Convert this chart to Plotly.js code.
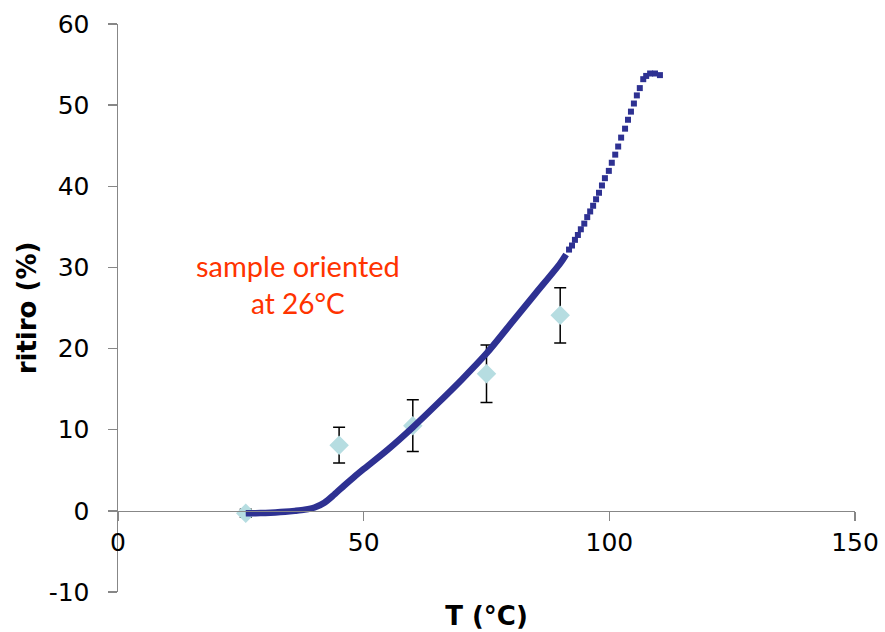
<!DOCTYPE html>
<html>
<head>
<meta charset="utf-8">
<script src="https://cdn.plot.ly/plotly-3.0.1.min.js"></script>
<style>html,body{margin:0;padding:0;background:#fff;}#chart{width:885px;height:632px;}</style>
</head>
<body>
<div id="chart"></div>
<script>
// Measured data (diamonds with error bars)
const measT = [26, 45, 60, 75, 90];
const measR = [-0.3, 8.1, 10.5, 16.9, 24.1];
const measErr = [0.5, 2.2, 3.2, 3.55, 3.4];

// Continuous (dense) part of the shrinkage curve
const curveT = [26.0, 28, 30, 32, 34, 36, 38, 40, 42, 44, 46, 48, 50, 55, 60, 65, 70, 75, 80, 85, 90, 91.2];
const curveR = [-0.3, -0.28, -0.25, -0.2, -0.12, 0.0, 0.15, 0.42, 1.0, 2.0, 3.1, 4.15, 5.15, 7.6, 10.3, 13.2, 16.2, 19.4, 23.1, 26.8, 30.5, 31.6];

// Sparse top part of the curve (individual markers)
const topT = [91.8, 92.4, 93.0, 93.6, 94.2, 94.9, 95.5, 96.1, 96.7, 97.3, 97.9, 98.5, 99.1, 99.9, 100.5, 101.2, 101.8, 102.4, 103.2, 103.8, 104.4, 105.0, 105.6, 106.2, 106.9, 107.5, 108.3, 109.3, 110.3];
const topR = [32.2, 32.7, 33.4, 34.0, 34.7, 35.4, 36.2, 36.9, 37.6, 38.4, 39.2, 40.1, 41.0, 41.9, 42.9, 43.9, 44.9, 46.0, 47.1, 48.2, 49.2, 50.2, 51.2, 52.1, 53.2, 53.6, 53.9, 53.9, 53.7];

const xTicks = [0, 50, 100, 150];
const yTicks = [-10, 0, 10, 20, 30, 40, 50, 60];

const curveColor = '#2E3192';
const axisColor = '#878787';
const tickFont = {family: 'DejaVu Sans', size: 25, color: '#000'};
const titleFont = {family: 'DejaVu Sans', size: 26, color: '#000', weight: 'bold'};

const traces = [
  {
    x: measT, y: measR, type: 'scatter', mode: 'markers',
    marker: {symbol: 'diamond', size: 15, color: '#B6DDE1', line: {width: 0}},
    error_y: {type: 'data', array: measErr, visible: true, color: '#000', thickness: 1.5, width: 6},
    showlegend: false, hoverinfo: 'skip'
  },
  {
    x: curveT, y: curveR, type: 'scatter', mode: 'lines',
    line: {color: curveColor, width: 6.5, shape: 'spline', smoothing: 0.8},
    showlegend: false, hoverinfo: 'skip'
  },
  {
    x: topT, y: topR, type: 'scatter', mode: 'markers',
    marker: {symbol: 'square', size: 6, color: curveColor, line: {width: 0}},
    showlegend: false, hoverinfo: 'skip'
  }
];

const layout = {
  width: 885, height: 632,
  margin: {l: 118, r: 30, t: 24, b: 40},
  paper_bgcolor: '#fff', plot_bgcolor: '#fff',
  showlegend: false,
  xaxis: {
    range: [0, 150], tickvals: xTicks, ticktext: xTicks.map(String),
    anchor: 'free', position: 10/70,
    showline: true, linecolor: axisColor, linewidth: 1.5,
    ticks: 'outside', ticklen: 9, tickwidth: 1.5, tickcolor: axisColor,
    showgrid: false, zeroline: false, tickfont: tickFont,
    title: {text: 'T (°C)', font: titleFont, standoff: 50}
  },
  yaxis: {
    range: [-10, 60], tickvals: yTicks, ticktext: yTicks.map(String),
    showline: true, linecolor: axisColor, linewidth: 1.5,
    ticks: 'outside', ticklen: 9, tickwidth: 1.5, tickcolor: axisColor,
    showgrid: false, zeroline: false, tickfont: tickFont,
    ticklabelstandoff: 13,
    title: {text: 'ritiro (%)', font: titleFont, standoff: 4}
  },
  annotations: [
    {x: 36.6, y: 30.25, xref: 'x', yref: 'y', text: 'sample oriented', showarrow: false,
     xanchor: 'center', yanchor: 'middle', font: {family: 'Lato', size: 29, color: '#FF3300'}},
    {x: 36.6, y: 25.6, xref: 'x', yref: 'y', text: 'at 26°C', showarrow: false,
     xanchor: 'center', yanchor: 'middle', font: {family: 'Lato', size: 28, color: '#FF3300'}}
  ]
};

Plotly.newPlot('chart', traces, layout, {staticPlot: true, displayModeBar: false});
</script>
</body>
</html>
